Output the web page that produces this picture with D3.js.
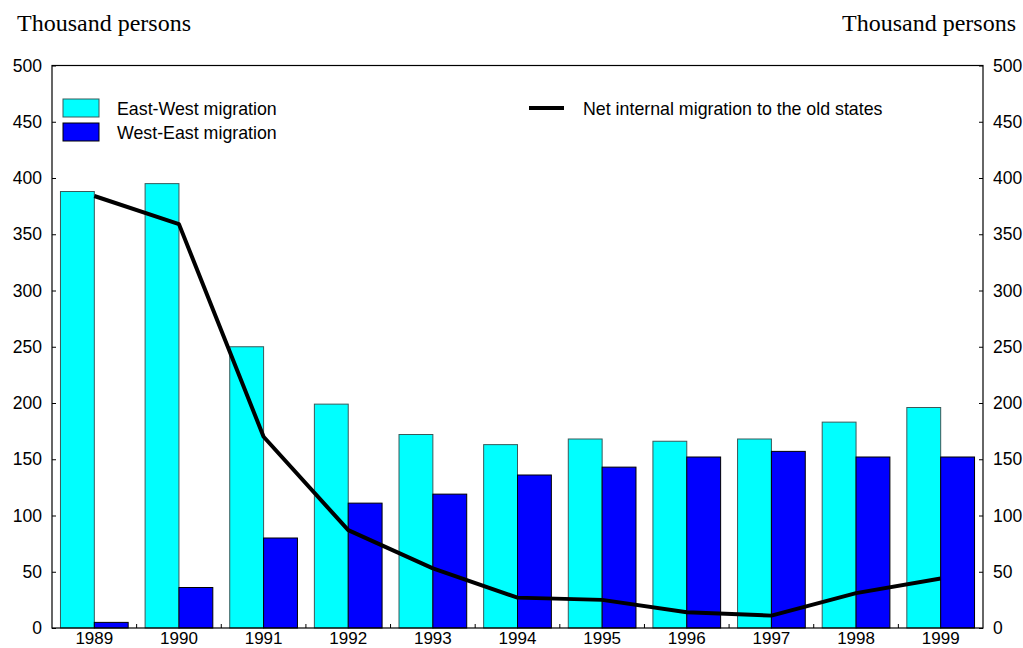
<!DOCTYPE html>
<html>
<head>
<meta charset="utf-8">
<script src="https://cdn.jsdelivr.net/npm/d3@7"></script>
<style>
    body { margin: 0; background: #fff; }
    svg { display: block; }
</style>
</head>
<body>
<script>
    "use strict";

    var years = ["1989", "1990", "1991", "1992", "1993", "1994", "1995", "1996", "1997", "1998", "1999"]
    var eastWest = [388, 395, 250, 199, 172, 163, 168, 166, 168, 183, 196]
    var westEast = [5, 36, 80, 111, 119, 136, 143, 152, 157, 152, 152]
    var netToOld = [384, 359, 170, 87, 53, 27, 25, 14, 11, 31, 44]
    var yTicks = [0, 50, 100, 150, 200, 250, 300, 350, 400, 450, 500]

    var width = 1023
    var height = 648
    var m = { left: 52, right: 983, top: 65.5, bottom: 628 }

    var svg = d3.select("body").append("svg")
        .attr("width", width)
        .attr("height", height)

    var x = d3.scaleBand().domain(years).range([m.left, m.right]).padding(0)
    var y = d3.scaleLinear().domain([0, 500]).range([m.bottom, m.top])

    var step = x.step()
    var barOff = step * 0.1
    var barW = step * 0.4

    // bars
    svg.append("g").selectAll("rect")
        .data(eastWest).enter()
        .append("rect")
        .attr("x", function(d, i) { return x(years[i]) + barOff })
        .attr("y", function(d) { return y(d) })
        .attr("width", barW)
        .attr("height", function(d) { return y(0) - y(d) })
        .attr("fill", "#00ffff")
        .attr("stroke", "#3a5a5a")
        .attr("stroke-width", 1)

    svg.append("g").selectAll("rect")
        .data(westEast).enter()
        .append("rect")
        .attr("x", function(d, i) { return x(years[i]) + barOff + barW })
        .attr("y", function(d) { return y(d) })
        .attr("width", barW)
        .attr("height", function(d) { return y(0) - y(d) })
        .attr("fill", "#0000ff")
        .attr("stroke", "#000")
        .attr("stroke-width", 1)

    // net migration line
    var line = d3.line()
        .x(function(d, i) { return x(years[i]) + step / 2 })
        .y(function(d) { return y(d) })

    svg.append("path")
        .datum(netToOld)
        .attr("d", line)
        .attr("fill", "none")
        .attr("stroke", "#000")
        .attr("stroke-width", 4)
        .attr("stroke-linejoin", "round")

    // frame
    svg.append("rect")
        .attr("x", m.left)
        .attr("y", m.top)
        .attr("width", m.right - m.left)
        .attr("height", m.bottom - m.top)
        .attr("fill", "none")
        .attr("stroke", "#000")
        .attr("stroke-width", 1.2)

    var font = "Liberation Sans, Arial, sans-serif"

    // axes
    var yl = svg.append("g")
        .attr("transform", "translate(" + m.left + ",0)")
        .call(d3.axisLeft(y).tickValues(yTicks).tickSize(-4).tickPadding(10))
    var yr = svg.append("g")
        .attr("transform", "translate(" + m.right + ",0)")
        .call(d3.axisRight(y).tickValues(yTicks).tickSize(-4).tickPadding(10))
    var xa = svg.append("g")
        .attr("transform", "translate(0," + m.bottom + ")")
        .call(d3.axisBottom(x).tickSize(0).tickPadding(4))

    // category boundary ticks
    svg.append("g").selectAll("line")
        .data(years.slice(1)).enter()
        .append("line")
        .attr("x1", function(d) { return x(d) })
        .attr("x2", function(d) { return x(d) })
        .attr("y1", m.bottom)
        .attr("y2", m.bottom - 4)
        .attr("stroke", "#000")

    ;[yl, yr, xa].forEach(function(g) {
        g.select(".domain").remove()
        g.selectAll("text")
            .attr("font-family", font)
            .attr("font-size", "17.5px")
            .attr("fill", "#000")
        g.selectAll("line").attr("stroke", "#000")
    })
    xa.selectAll("text").attr("font-size", "17px")

    // unit labels
    svg.append("text")
        .attr("x", 17)
        .attr("y", 31)
        .attr("font-family", "Liberation Serif, Times New Roman, serif")
        .attr("font-size", "24px")
        .text("Thousand persons")
    svg.append("text")
        .attr("x", 1016)
        .attr("y", 31)
        .attr("text-anchor", "end")
        .attr("font-family", "Liberation Serif, Times New Roman, serif")
        .attr("font-size", "24px")
        .text("Thousand persons")

    // legend
    var legendBars = [
        { label: "East-West migration", fill: "#00ffff", stroke: "#3a5a5a" },
        { label: "West-East migration", fill: "#0000ff", stroke: "#000" }
    ]
    var lg = svg.append("g")
    lg.selectAll("rect")
        .data(legendBars).enter()
        .append("rect")
        .attr("x", 63)
        .attr("y", function(d, i) { return 99 + i * 24 })
        .attr("width", 36)
        .attr("height", 18)
        .attr("fill", function(d) { return d.fill })
        .attr("stroke", function(d) { return d.stroke })
    lg.selectAll("text")
        .data(legendBars).enter()
        .append("text")
        .attr("x", 117)
        .attr("y", function(d, i) { return 115 + i * 24 })
        .attr("font-family", font)
        .attr("font-size", "17.8px")
        .text(function(d) { return d.label })

    svg.append("line")
        .attr("x1", 529).attr("x2", 564)
        .attr("y1", 108).attr("y2", 108)
        .attr("stroke", "#000")
        .attr("stroke-width", 4)
    svg.append("text")
        .attr("x", 583)
        .attr("y", 115)
        .attr("font-family", font)
        .attr("font-size", "17.8px")
        .text("Net internal migration to the old states")
</script>
</body>
</html>
